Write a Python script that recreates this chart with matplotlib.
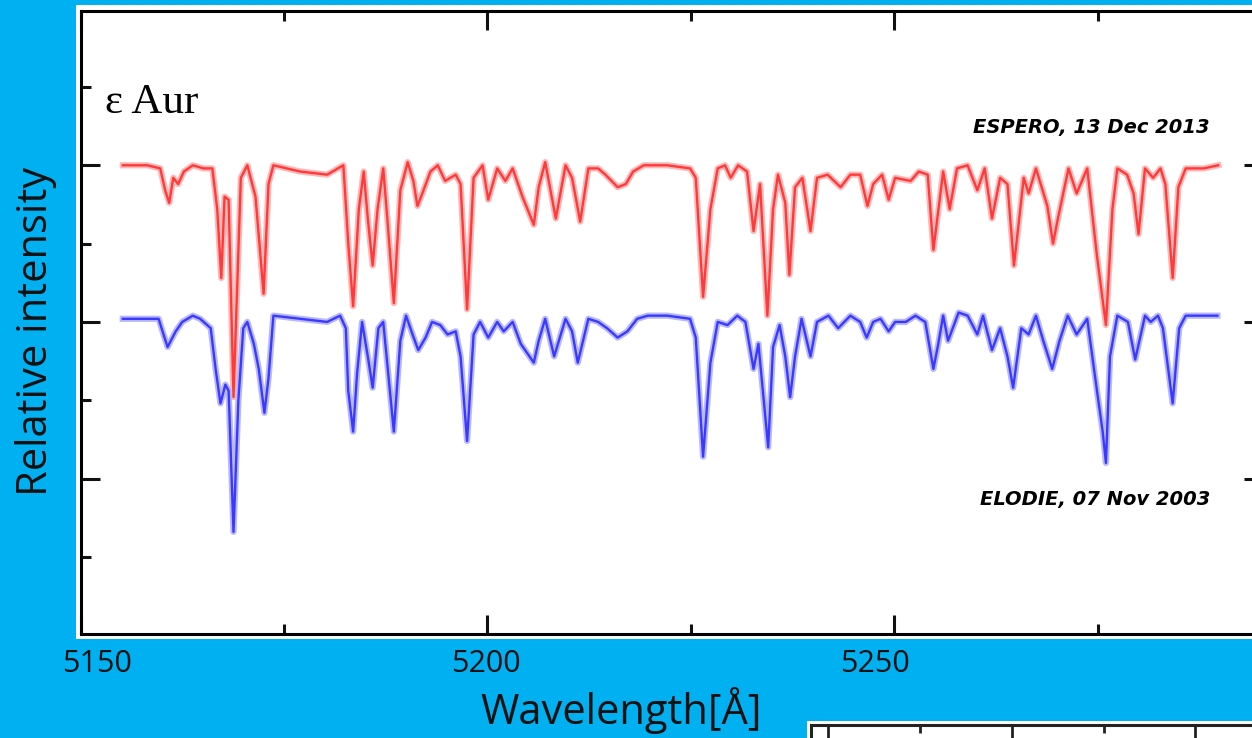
import matplotlib
matplotlib.use("Agg")
import matplotlib.pyplot as plt
from matplotlib.patches import Rectangle
from matplotlib.ticker import MultipleLocator

# epsilon Aur, continuum-normalised spectra
# ESPERO (Rozhen), 13 Dec 2013
espero_wl = [5155.2, 5156.5, 5158.2, 5159.8, 5160.4, 5160.9, 5161.4, 5162.0, 5162.7, 5163.8,
             5165.1, 5166.2, 5166.8, 5167.3, 5167.7, 5168.2, 5168.8, 5169.7, 5170.5, 5171.5,
             5172.5, 5173.1, 5173.7, 5177.0, 5180.3, 5182.3, 5182.9, 5183.5, 5184.2, 5184.8,
             5185.3, 5185.9, 5186.5, 5187.2, 5187.7, 5188.5, 5189.3, 5190.2, 5190.9, 5191.4,
             5192.0, 5193.0, 5193.9, 5194.8, 5196.1, 5196.7, 5197.5, 5198.3, 5199.4, 5200.1,
             5201.2, 5202.2, 5203.1, 5204.3, 5205.7, 5206.3, 5207.1, 5208.4, 5209.6, 5210.4,
             5211.4, 5212.4, 5213.6, 5214.5, 5216.0, 5217.0, 5217.9, 5219.2, 5222.1, 5224.9,
             5225.6, 5226.5, 5227.4, 5228.3, 5229.2, 5229.9, 5230.8, 5231.9, 5232.7, 5233.5,
             5234.4, 5235.1, 5235.7, 5236.6, 5237.1, 5237.8, 5238.7, 5239.7, 5240.5, 5241.8,
             5243.4, 5244.6, 5245.8, 5246.7, 5247.4, 5248.5, 5249.3, 5250.1, 5252.0, 5253.0,
             5254.1, 5254.8, 5256.0, 5256.8, 5257.7, 5259.0, 5260.2, 5261.1, 5262.0, 5263.0,
             5263.9, 5264.7, 5265.9, 5266.5, 5267.4, 5268.8, 5269.5, 5270.1, 5271.4, 5272.4,
             5273.7, 5274.9, 5276.0, 5276.8, 5277.4, 5278.6, 5279.4, 5280.0, 5280.8, 5281.8,
             5282.7, 5283.3, 5284.2, 5284.9, 5285.8, 5288.0, 5289.8]
espero_flux = [1.00, 1.00, 1.00, 0.99, 0.92, 0.88, 0.96, 0.94, 0.98, 1.00,
               0.99, 0.99, 0.86, 0.64, 0.90, 0.89, 0.26, 0.96, 1.00, 0.90,
               0.59, 0.94, 1.00, 0.98, 0.97, 1.00, 0.75, 0.55, 0.86, 0.98,
               0.83, 0.68, 0.86, 0.99, 0.83, 0.56, 0.92, 1.01, 0.95, 0.87,
               0.91, 0.98, 1.00, 0.95, 0.97, 0.94, 0.54, 0.96, 1.00, 0.89,
               0.99, 0.95, 0.99, 0.90, 0.81, 0.93, 1.01, 0.83, 1.00, 0.96,
               0.82, 0.99, 0.99, 0.97, 0.93, 0.94, 0.98, 1.00, 1.00, 0.99,
               0.96, 0.58, 0.86, 0.99, 1.00, 0.96, 1.00, 0.98, 0.79, 0.94,
               0.52, 0.86, 0.97, 0.88, 0.65, 0.93, 0.96, 0.79, 0.96, 0.97,
               0.93, 0.97, 0.97, 0.87, 0.94, 0.97, 0.89, 0.96, 0.95, 0.98,
               0.97, 0.73, 0.98, 0.86, 0.99, 1.00, 0.92, 0.99, 0.83, 0.96,
               0.94, 0.68, 0.96, 0.91, 0.99, 0.87, 0.75, 0.83, 0.99, 0.91,
               0.99, 0.71, 0.49, 0.86, 0.99, 0.97, 0.91, 0.78, 0.99, 0.96,
               0.99, 0.94, 0.64, 0.93, 0.99, 0.99, 1.00]

# ELODIE (OHP), 07 Nov 2003
elodie_wl = [5155.2, 5157.7, 5159.6, 5160.2, 5160.7, 5161.7, 5162.5, 5163.8, 5164.7, 5166.0,
             5166.6, 5167.2, 5167.8, 5168.2, 5168.8, 5169.4, 5170.0, 5170.5, 5171.3, 5171.9,
             5172.6, 5173.1, 5173.7, 5177.0, 5180.3, 5181.9, 5182.6, 5182.9, 5183.5, 5184.0,
             5184.6, 5185.3, 5185.9, 5186.6, 5187.2, 5187.8, 5188.5, 5189.3, 5190.0, 5190.8,
             5191.5, 5192.4, 5193.2, 5194.2, 5195.1, 5196.1, 5196.7, 5197.5, 5198.3, 5199.1,
             5200.1, 5201.2, 5202.0, 5203.1, 5204.1, 5205.7, 5206.3, 5207.1, 5208.2, 5209.6,
             5210.4, 5211.1, 5212.4, 5213.6, 5214.7, 5216.0, 5217.2, 5218.4, 5219.7, 5222.1,
             5224.9, 5225.6, 5226.5, 5227.4, 5228.3, 5229.5, 5230.7, 5231.7, 5232.7, 5233.3,
             5234.5, 5235.1, 5235.9, 5236.6, 5237.2, 5237.8, 5238.6, 5239.7, 5240.5, 5241.9,
             5243.1, 5244.6, 5245.8, 5246.6, 5247.4, 5248.3, 5249.3, 5250.1, 5251.4, 5252.6,
             5253.8, 5254.8, 5255.4, 5256.0, 5256.6, 5257.9, 5259.0, 5260.2, 5260.9, 5262.0,
             5263.0, 5263.9, 5264.6, 5265.6, 5266.5, 5267.4, 5268.3, 5269.4, 5270.3, 5271.3,
             5272.4, 5273.7, 5274.9, 5275.6, 5276.0, 5276.5, 5277.4, 5278.7, 5279.6, 5280.8,
             5281.5, 5282.4, 5283.0, 5284.2, 5285.0, 5285.8, 5289.7]
elodie_flux = [1.01, 1.01, 1.01, 0.96, 0.92, 0.97, 1.00, 1.02, 1.01, 0.98,
               0.85, 0.74, 0.80, 0.78, 0.33, 0.75, 0.98, 1.00, 0.93, 0.85,
               0.71, 0.82, 1.02, 1.01, 1.00, 1.02, 0.98, 0.78, 0.65, 0.84,
               1.00, 0.89, 0.79, 0.98, 1.00, 0.84, 0.65, 0.94, 1.02, 0.96,
               0.91, 0.95, 1.00, 0.99, 0.96, 0.97, 0.89, 0.62, 0.96, 1.00,
               0.95, 1.00, 0.97, 1.00, 0.93, 0.87, 0.94, 1.01, 0.89, 1.01,
               0.97, 0.87, 1.01, 1.00, 0.98, 0.95, 0.97, 1.01, 1.02, 1.02,
               1.01, 0.95, 0.57, 0.87, 1.00, 0.99, 1.02, 1.00, 0.85, 0.93,
               0.60, 0.92, 0.99, 0.89, 0.76, 0.89, 1.01, 0.89, 1.00, 1.02,
               0.98, 1.02, 1.00, 0.95, 1.00, 1.01, 0.97, 1.00, 1.00, 1.02,
               1.00, 0.85, 0.93, 1.02, 0.94, 1.03, 1.02, 0.96, 1.02, 0.91,
               0.98, 0.89, 0.79, 0.98, 0.96, 1.02, 0.94, 0.85, 0.94, 1.02,
               0.96, 1.01, 0.78, 0.65, 0.55, 0.89, 1.02, 1.00, 0.88, 1.02,
               1.00, 1.02, 0.98, 0.74, 0.98, 1.02, 1.02]

espero_offset = 0.5
x_tick_labels = [5150, 5200, 5250]

W, H = 1252, 738
SLIDE_BLUE = "#00b0f0"
FONT = ["Open Sans", "DejaVu Sans"]


def px_box(x0, y0, x1, y1):
    """pixel box (top-left origin) -> figure fraction [left, bottom, width, height]"""
    return [x0 / W, 1 - y1 / H, (x1 - x0) / W, (y1 - y0) / H]


fig = plt.figure(figsize=(W / 100, H / 100), dpi=100, facecolor=SLIDE_BLUE)

# white picture frame around the pasted plot (behind every axes)
for box in [(76, 5, 1300, 639), (807, 721, 1300, 760)]:
    l, b, w, h = px_box(*box)
    fig.patches.append(Rectangle((l, b), w, h, transform=fig.transFigure, facecolor="white",
                                 edgecolor="none", zorder=-10))

ax = fig.add_axes(px_box(80.5, 10.8, 1263, 634))
ax.set_xlim(5150, 5295.3)
ax.set_ylim(0.004, 1.993)

ax.plot(espero_wl, [f + espero_offset for f in espero_flux], color="#ffb8b8", lw=4.5,
        solid_joinstyle="round", zorder=2)
ax.plot(espero_wl, [f + espero_offset for f in espero_flux], color="#ff3a3a", lw=1.7,
        solid_joinstyle="round", zorder=3)
ax.plot(elodie_wl, elodie_flux, color="#b8b8ff", lw=4.5, solid_joinstyle="round", zorder=2)
ax.plot(elodie_wl, elodie_flux, color="#3a3aff", lw=1.7, solid_joinstyle="round", zorder=3)

ax.xaxis.set_major_locator(MultipleLocator(50))
ax.xaxis.set_minor_locator(MultipleLocator(25))
ax.yaxis.set_major_locator(MultipleLocator(0.5))
ax.yaxis.set_minor_locator(MultipleLocator(0.25))
ax.tick_params(which="both", direction="in", top=True, right=True, width=2.2, color="#111111",
               labelbottom=False, labelleft=False)
ax.tick_params(which="major", length=14)
ax.tick_params(which="minor", length=7.5)
for sp in ax.spines.values():
    sp.set_linewidth(2.2)
    sp.set_color("black")

ax.text(5153.0, 1.667, "\u03b5 Aur", family="Liberation Serif", fontsize=31, va="baseline")
ax.text(5288.8, 1.603, "ESPERO, 13 Dec 2013", fontsize=14, weight="bold", style="italic",
        ha="right", va="baseline")
ax.text(5288.8, 0.416, "ELODIE, 07 Nov 2003", fontsize=14, weight="bold", style="italic",
        ha="right", va="baseline")

ax.set_ylabel("Relative intensity", family=FONT, fontsize=30, color="#111111")
ax.yaxis.set_label_coords(-0.038, 0.485)
ax.yaxis.label.set_va("center")
ax.set_xlabel("Wavelength[\u00c5]", family=FONT, fontsize=30, color="#111111")
ax.xaxis.set_label_coords(0.457, -0.122)
ax.xaxis.label.set_va("center")

# the slide's own tick labels, pasted a little off the plot's tick marks
lab = fig.add_axes(px_box(97, 10.8, 1252, 634))
lab.set_xlim(5150, 5150 + (1252 - 97) / 7.78)
lab.set_xticks(x_tick_labels)
lab.set_xticklabels([str(v) for v in x_tick_labels], family=FONT, fontsize=22, color="#111111")
lab.set_yticks([])
lab.tick_params(length=0, pad=11)
lab.set_frame_on(False)
lab.patch.set_alpha(0)

# top edge of the next pasted plot, cut off at the slide border
inset = fig.add_axes(px_box(811, 725.5, 1300, 800))
inset.set_xlim(-0.093, 2.57)
inset.set_ylim(0, 1)
inset.xaxis.set_major_locator(MultipleLocator(1))
inset.xaxis.set_minor_locator(MultipleLocator(0.5))
inset.set_yticks([])
inset.tick_params(which="both", direction="in", top=True, bottom=False, labelbottom=False,
                  width=2, color="#222222")
inset.tick_params(which="major", length=14)
inset.tick_params(which="minor", length=6)
for sp in inset.spines.values():
    sp.set_linewidth(2.2)
    sp.set_color("#222222")

fig.savefig("out.png", dpi=100, facecolor=SLIDE_BLUE)
